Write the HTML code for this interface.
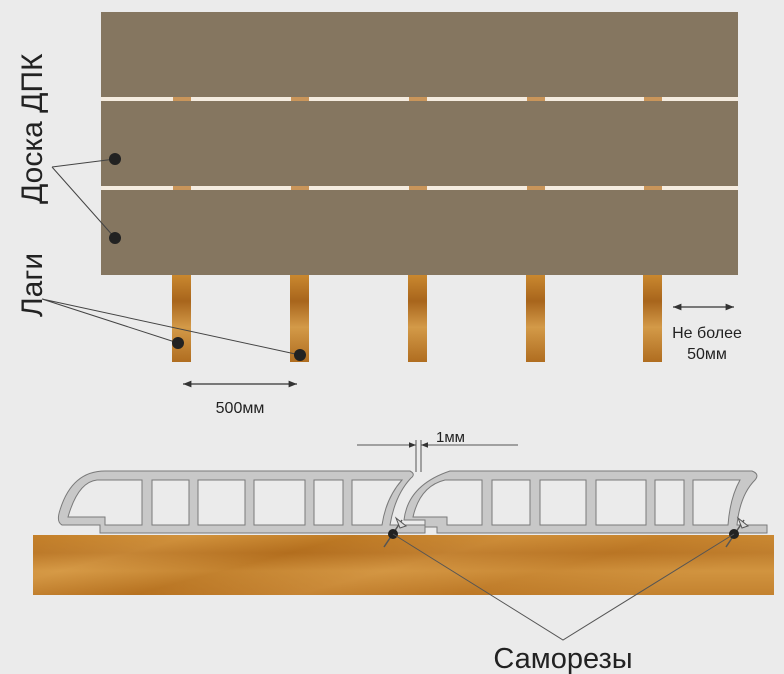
<!DOCTYPE html>
<html><head><meta charset="utf-8"><style>
html,body{margin:0;padding:0;background:#ebebeb;}
svg{display:block}
text{font-family:"Liberation Sans",sans-serif;fill:#222}
</style></head><body>
<svg width="784" height="674" viewBox="0 0 784 674" xmlns="http://www.w3.org/2000/svg">
<defs>
<linearGradient id="wd" x1="0" y1="0" x2="1" y2="0.3">
<stop offset="0" stop-color="#c07a25"/><stop offset="0.2" stop-color="#d89a45"/><stop offset="0.4" stop-color="#b9731f"/><stop offset="0.6" stop-color="#d49440"/><stop offset="0.8" stop-color="#c47f2a"/><stop offset="1" stop-color="#d0903a"/>
</linearGradient>
<linearGradient id="wv" x1="0" y1="0" x2="0" y2="1">
<stop offset="0" stop-color="#c9882f"/><stop offset="0.3" stop-color="#a8651c"/><stop offset="0.6" stop-color="#d39a48"/><stop offset="1" stop-color="#b06d20"/>
</linearGradient>
<marker id="ah" viewBox="0 0 10 10" refX="10" refY="5" markerWidth="7" markerHeight="7" orient="auto-start-reverse"><path d="M0,1 L10,5 L0,9z" fill="#333"/></marker>
</defs>
<rect width="784" height="674" fill="#ebebeb"/>
<rect x="101" y="12" width="637" height="263" fill="#857660"/>
<rect x="101" y="97" width="637" height="4" fill="#f5ece0"/>
<rect x="101" y="186" width="637" height="4" fill="#f5ece0"/>
<g fill="#c9955a">
<rect x="173" y="97" width="18" height="4"/><rect x="291" y="97" width="18" height="4"/><rect x="409" y="97" width="18" height="4"/><rect x="527" y="97" width="18" height="4"/><rect x="644" y="97" width="18" height="4"/>
<rect x="173" y="186" width="18" height="4"/><rect x="291" y="186" width="18" height="4"/><rect x="409" y="186" width="18" height="4"/><rect x="527" y="186" width="18" height="4"/><rect x="644" y="186" width="18" height="4"/>
</g>
<g fill="url(#wv)">
<rect x="172" y="275" width="19" height="87"/><rect x="290" y="275" width="19" height="87"/><rect x="408" y="275" width="19" height="87"/><rect x="526" y="275" width="19" height="87"/><rect x="643" y="275" width="19" height="87"/>
</g>
<text transform="translate(42,204) rotate(-90)" font-size="30">Доска ДПК</text>
<text transform="translate(42,317) rotate(-90)" font-size="30">Лаги</text>
<g stroke="#444" stroke-width="1" fill="none">
<path d="M52,167 L115,159 M52,167 L115,238"/>
<path d="M42,299 L178,343 M42,299 L300,355"/>
</g>
<g fill="#222"><circle cx="115" cy="159" r="6"/><circle cx="115" cy="238" r="6"/><circle cx="178" cy="343" r="6"/><circle cx="300" cy="355" r="6"/></g>
<line x1="183" y1="384" x2="297" y2="384" stroke="#333" stroke-width="1.2" marker-start="url(#ah)" marker-end="url(#ah)"/>
<text x="240" y="413" font-size="16" text-anchor="middle">500мм</text>
<line x1="673" y1="307" x2="734" y2="307" stroke="#333" stroke-width="1.2" marker-start="url(#ah)" marker-end="url(#ah)"/>
<text x="707" y="338" font-size="16" text-anchor="middle">Не более</text>
<text x="707" y="359" font-size="16" text-anchor="middle">50мм</text>
<rect x="33" y="535" width="741" height="60" fill="url(#wd)"/>
<rect x="33" y="535" width="741" height="60" fill="url(#wv)" opacity="0.4"/>
<path d="M105,471 L410,471 Q416,474 411,478 Q395,495 390,525 L425,525 L425,533 L100,533 L100,525 L62,525 Q56,522 60,510 Q72,471 105,471Z" fill="#c8c8c8" stroke="#7a7a7a" stroke-width="1"/>
<g fill="#ebebeb" stroke="#7a7a7a" stroke-width="1">
<path d="M97,480 L142,480 L142,525 L105,525 L105,517 L68,517 Q78,482 97,480Z"/>
<rect x="152" y="480" width="37" height="45"/><rect x="198" y="480" width="47" height="45"/><rect x="254" y="480" width="51" height="45"/><rect x="314" y="480" width="29" height="45"/>
<path d="M352,480 L402,480 Q386,498 382,525 L352,525Z"/>
</g>
<path d="M450,471 L752,471 Q760,474 755,480 Q740,495 737,525 L767,525 L767,533 L437,533 L437,527 L425,527 L425,520 L404,520 Q408,485 450,471Z" fill="#c8c8c8" stroke="#7a7a7a" stroke-width="1"/>
<g fill="#ebebeb" stroke="#7a7a7a" stroke-width="1">
<path d="M445,480 L482,480 L482,525 L447,525 L447,517 L413,517 Q420,486 445,480Z"/>
<rect x="492" y="480" width="38" height="45"/><rect x="540" y="480" width="46" height="45"/><rect x="596" y="480" width="50" height="45"/><rect x="655" y="480" width="29" height="45"/>
<path d="M693,480 L740,480 Q730,498 728,525 L693,525Z"/>
</g>
<g stroke="#555" stroke-width="1">
<line x1="416" y1="440" x2="416" y2="472"/><line x1="421" y1="440" x2="421" y2="472"/>
<line x1="357" y1="445" x2="416" y2="445" marker-end="url(#ah)"/>
<line x1="518" y1="445" x2="421" y2="445" marker-end="url(#ah)"/>
</g>
<text x="436" y="442" font-size="15">1мм</text>
<g stroke="#555" stroke-width="1.5">
<line x1="384" y1="547" x2="402" y2="520"/><line x1="726" y1="547" x2="744" y2="520"/>
</g>
<path d="M396,518 L406,526 L400,528Z M738,518 L748,526 L742,528Z" fill="#ddd" stroke="#555"/>
<circle cx="393" cy="534" r="5" fill="#222"/><circle cx="734" cy="534" r="5" fill="#222"/>
<path d="M393,534 L563,640 L734,534" stroke="#555" stroke-width="1" fill="none"/>
<text x="563" y="668" font-size="29" text-anchor="middle">Саморезы</text>
</svg>
</body></html>
